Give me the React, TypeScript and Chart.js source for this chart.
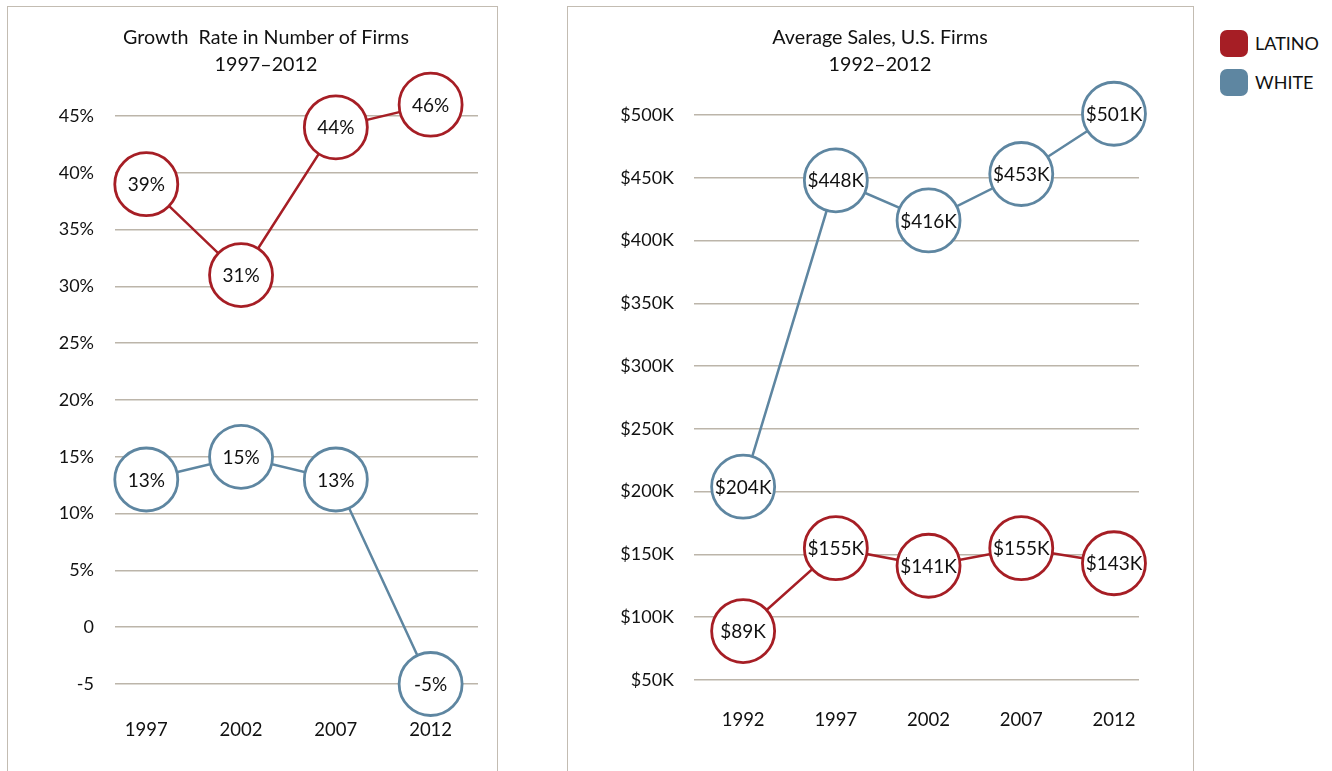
import React, { useEffect, useRef } from "react";
import { Chart, registerables } from "chart.js";

Chart.register(...registerables);

// ---------- data ----------
const growthYears = ["1997", "2002", "2007", "2012"];
const growthLatino = [39, 31, 44, 46];
const growthWhite = [13, 15, 13, -5];

const salesYears = ["1992", "1997", "2002", "2007", "2012"];
const salesLatino = [89, 155, 141, 155, 143]; // $K
const salesWhite = [204, 448, 416, 453, 501]; // $K

const legendLabels = ["LATINO", "WHITE"];

const RED = "#a61e25";
const BLUE = "#5e86a1";
const GRID = "#bcb5aa";
const FRAME = "#c3bcb2";
const FONT = "Lato, 'Open Sans', sans-serif";

type Cfg = {
  labels: string[];
  latino: number[];
  white: number[];
  yMin: number;
  yMax: number;
  yStep: number;
  xMin: number;
  xMax: number;
  tickFmt: (v: number) => string;
  pointFmt: (v: number) => string;
  width: number;
  height: number;
  axisW: number;
  yPad: number;
  xPad: number;
  padTop: number;
  padRight: number;
  padBottom: number;
};

function LineChart({ cfg, left }: { cfg: Cfg; left: number }) {
  const ref = useRef<HTMLCanvasElement | null>(null);
  useEffect(() => {
    if (!ref.current) return;
    const labelPlugin = {
      id: "circleLabels",
      afterDatasetsDraw(chart: any) {
        const ctx = chart.ctx;
        ctx.save();
        ctx.font = `19px ${FONT}`;
        ctx.fillStyle = "#111";
        ctx.textAlign = "center";
        ctx.textBaseline = "middle";
        chart.data.datasets.forEach((ds: any, i: number) => {
          const meta = chart.getDatasetMeta(i);
          meta.data.forEach((pt: any, j: number) => {
            ctx.fillText(cfg.pointFmt(ds.data[j].y), pt.x, pt.y + 1);
          });
        });
        ctx.restore();
      },
    };
    const mk = (vals: number[], color: string) => ({
      data: vals.map((v, i) => ({ x: i, y: v })),
      borderColor: color,
      borderWidth: 2.5,
      pointRadius: 31.5,
      pointHoverRadius: 31.5,
      pointBackgroundColor: "#ffffff",
      pointBorderColor: color,
      pointBorderWidth: 2.8,
      pointHoverBorderWidth: 2.8,
      tension: 0,
      clip: false as any,
    });
    const chart = new Chart(ref.current, {
      type: "line",
      data: {
        datasets: [mk(cfg.latino, RED), mk(cfg.white, BLUE)],
      },
      options: {
        animation: false,
        responsive: false,
        events: [],
        layout: {
          autoPadding: false,
          padding: { top: cfg.padTop, right: cfg.padRight, bottom: cfg.padBottom, left: 0 },
        },
        plugins: {
          legend: { display: false },
          title: { display: false },
          tooltip: { enabled: false },
        },
        scales: {
          x: {
            type: "linear",
            min: cfg.xMin,
            max: cfg.xMax,
            grid: { display: false, drawTicks: false },
            border: { display: false },
            afterBuildTicks: (s: any) => {
              s.ticks = cfg.labels.map((_, i) => ({ value: i }));
            },
            afterFit: (s: any) => {
              s.height = 60;
              s.paddingLeft = 0;
              s.paddingRight = 0;
            },
            ticks: {
              padding: cfg.xPad,
              color: "#111",
              font: { family: FONT, size: 18.5 },
              maxRotation: 0,
              autoSkip: false,
              callback: (v: any) => cfg.labels[Math.round(Number(v))] ?? "",
            },
          },
          y: {
            type: "linear",
            min: cfg.yMin,
            max: cfg.yMax,
            grid: { color: GRID, lineWidth: 1.5, drawTicks: false },
            border: { display: false },
            afterFit: (s: any) => {
              s.width = cfg.axisW;
              s.paddingTop = 0;
              s.paddingBottom = 0;
            },
            ticks: {
              stepSize: cfg.yStep,
              padding: cfg.yPad,
              color: "#111",
              font: { family: FONT, size: 18 },
              callback: (v: any) => cfg.tickFmt(Number(v)),
            },
          },
        },
      },
      plugins: [labelPlugin],
    });
    return () => chart.destroy();
  }, [cfg]);
  return (
    <canvas
      ref={ref}
      width={cfg.width}
      height={cfg.height}
      style={{ position: "absolute", left, top: 0, width: cfg.width, height: cfg.height }}
    />
  );
}

const growthCfg: Cfg = {
  labels: growthYears,
  latino: growthLatino,
  white: growthWhite,
  yMin: -5,
  yMax: 45,
  yStep: 5,
  xMin: -0.33,
  xMax: 3.5,
  tickFmt: (v) => (v === 0 ? "0" : v < 0 ? String(v) : `${v}%`),
  pointFmt: (v) => `${v}%`,
  width: 500,
  height: 771,
  axisW: 115,
  yPad: 21,
  xPad: 35,
  padTop: 116,
  padRight: 22,
  padBottom: 27,
};

const salesCfg: Cfg = {
  labels: salesYears,
  latino: salesLatino,
  white: salesWhite,
  yMin: 50,
  yMax: 500,
  yStep: 50,
  xMin: -0.53,
  xMax: 4.27,
  tickFmt: (v) => `$${v}K`,
  pointFmt: (v) => `$${v}K`,
  width: 640,
  height: 771,
  axisW: 134,
  yPad: 20,
  xPad: 29,
  padTop: 115,
  padRight: 61,
  padBottom: 31,
};

const titleStyle: React.CSSProperties = {
  position: "absolute",
  textAlign: "center",
  fontFamily: FONT,
  fontSize: 19.7,
  lineHeight: "27px",
  color: "#111",
  whiteSpace: "pre",
};

export default function App() {
  return (
    <div style={{ position: "absolute", left: 0, top: 0, width: 1332, height: 771, overflow: "hidden", background: "#fff" }}>
      <div style={{ position: "absolute", left: 7, top: 6, width: 489, height: 800, border: `1.5px solid ${FRAME}` }} />
      <div style={{ position: "absolute", left: 567, top: 6, width: 625, height: 800, border: `1.5px solid ${FRAME}` }} />
      <LineChart cfg={growthCfg} left={0} />
      <LineChart cfg={salesCfg} left={560} />
      <div style={{ ...titleStyle, left: 116, width: 300, top: 23 }}>
        {"Growth  Rate in Number of Firms\n1997–2012"}
      </div>
      <div style={{ ...titleStyle, left: 730, width: 300, top: 23 }}>
        {"Average Sales, U.S. Firms\n1992–2012"}
      </div>
      {legendLabels.map((name, i) => (
        <div key={name} style={{ position: "absolute", left: 1220, top: 29 + i * 39, height: 28, display: "flex", alignItems: "center" }}>
          <div style={{ width: 28, height: 27, borderRadius: 7, background: i === 0 ? RED : BLUE }} />
          <span style={{ marginLeft: 7, fontFamily: FONT, fontSize: 18, color: "#111" }}>{name}</span>
        </div>
      ))}
    </div>
  );
}
